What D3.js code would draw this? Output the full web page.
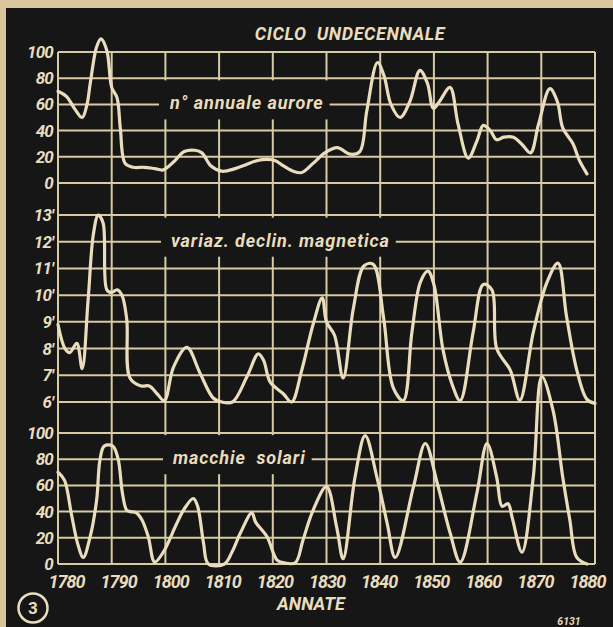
<!DOCTYPE html>
<html>
<head>
<meta charset="utf-8">
<title>Ciclo undecennale</title>
<script src="https://cdn.jsdelivr.net/npm/d3@7"></script>
<style>
  html, body { margin: 0; padding: 0; background: #d9c59b; }
  svg { display: block; }
  text { font-family: Roboto, "Open Sans", sans-serif; font-weight: bold; font-style: italic; fill: #e9ddbd; }
</style>
</head>
<body>
<div id="chart"></div>
<script>
(function () {
  "use strict";

  var W = 613, H = 627;
  var INK = "#e9ddbd", GRID = "#d8caa4", DARK = "#161616";

  var yearTicks = [1780, 1790, 1800, 1810, 1820, 1830, 1840, 1850, 1860, 1870, 1880];
  var auroraTicks = [0, 20, 40, 60, 80, 100];
  var declTicks = [6, 7, 8, 9, 10, 11, 12, 13];
  var spotTicks = [0, 20, 40, 60, 80, 100];

  // n° annuale aurore
  var auroraYears = [1780, 1781.6, 1783.2, 1784.5, 1785.4, 1786, 1787.2, 1788, 1789.1, 1790, 1791, 1791.6, 1792.5, 1794, 1796, 1798, 1799.6,
    1801.5, 1803.5, 1805.5, 1806.8, 1808.5, 1810.5, 1813, 1815, 1817, 1819, 1820.5, 1822, 1823.8, 1825.4, 1827.5, 1829.7,
    1832, 1834.4, 1836.2, 1837.5, 1839.5, 1840.7, 1842, 1843.7, 1845.5, 1847.4, 1848.8, 1849.9, 1851, 1853, 1854.5, 1856.4,
    1858, 1859.2, 1860.5, 1861.7, 1863, 1864.8, 1866.5, 1868, 1869.5, 1871.6, 1873, 1874, 1875.9, 1877, 1878.5];
  var auroraValues = [70, 66, 56, 50, 60, 76, 104, 110, 101, 73, 65, 42, 15, 12, 12, 11, 10,
    16, 24, 25, 23, 13, 9, 11, 14, 17, 18, 17, 13, 9, 8, 15, 23,
    27, 22, 24, 55, 92, 82, 60, 50, 62, 86, 76, 57, 62, 73, 45, 19,
    32, 44, 40, 33, 35, 35, 29, 23, 45, 72, 62, 42, 30, 18, 7];

  // variaz. declin. magnetica (primi d'arco)
  var declYears = [1780, 1781.3, 1782.2, 1783.5, 1784.5, 1785.6, 1786.6, 1787.5, 1788.4, 1789.1, 1790, 1791, 1791.9, 1792.8, 1793.4,
    1795.5, 1797, 1798.5, 1799.8, 1801.5, 1804, 1806.4, 1808.9, 1810.5, 1812.5, 1815.2, 1817.3, 1818.3, 1819.5, 1822, 1823.5,
    1825.4, 1827.5, 1829.2, 1830, 1831.5, 1833.1, 1835, 1837, 1838.7, 1840.6, 1842.4, 1844.3, 1845.9, 1847.5, 1848.9, 1850,
    1851.7, 1853.5, 1854.9, 1857.3, 1859.2, 1860.8, 1861.7, 1864.2, 1866, 1868.5, 1871, 1873.1, 1874.7, 1876.6, 1878.5, 1880];
  var declValues = [8.9, 8.0, 7.85, 8.2, 7.25, 9.8, 12.3, 13.0, 12.7, 10.2, 10.1, 10.2, 10.0, 9.1, 6.9,
    6.6, 6.6, 6.3, 6.05, 7.3, 8.05, 7.1, 6.15, 6.0, 6.0, 6.95, 7.8, 7.55, 6.75, 6.3, 6.0,
    7.2, 8.9, 9.9, 9.0, 8.5, 6.9, 9.5, 11.1, 11.15, 9.2, 6.55, 6.05, 8.6, 10.5, 10.9, 10.4,
    7.95, 6.6, 6.05, 8.6, 10.4, 10.2, 8.0, 7.2, 6.07, 8.6, 10.45, 11.2, 9.2, 7.2, 6.1, 5.95];

  // macchie solari
  var spotYears = [1780, 1781.2, 1782.5, 1783.7, 1784.7, 1786, 1787.2, 1787.8, 1788.6, 1790.2, 1791.2, 1792, 1792.8, 1793.5, 1794.6,
    1795.6, 1796.8, 1798, 1799.6, 1802, 1803.5, 1805.2, 1806, 1807.1, 1808, 1811, 1812.5, 1814, 1816.1, 1816.8, 1818.9,
    1820.8, 1822, 1824.2, 1825.6, 1827.5, 1830, 1831.9, 1833.1, 1835.3, 1837.2, 1839.4, 1841.3, 1842.8, 1846.2, 1848.4,
    1850.6, 1853, 1854.9, 1858, 1859.9, 1861.7, 1862.7, 1863.8, 1864.6, 1866.4, 1868.5, 1870.1, 1872.2, 1874, 1875.3,
    1876.6, 1878.5];
  var spotValues = [70, 64, 38, 15, 5, 21, 49, 79, 90, 90, 80, 54, 41, 40, 39,
    34, 21, 1.5, 9, 30, 42, 50, 44, 16, 0, 0, 10, 24, 39, 32, 21,
    3, 1, 1, 18, 41, 59, 28, 4, 66, 98, 66, 31, 5, 59, 92,
    62, 24, 1.5, 54, 92, 66, 44, 46, 35, 9, 66, 143, 117, 66, 34,
    5, 0];

  var x = d3.scaleLinear().domain([1780, 1880]).range([58, 595]);
  // the year labels sit a little inside the grid at both ends
  var xLabel = x.copy().range([66, 587]);

  var panels = [
    { years: auroraYears, values: auroraValues, ticks: auroraTicks, y: d3.scaleLinear().domain([0, 100]).range([183, 52]),
      fmt: function (d) { return d; }, label: "n\u00b0 annuale aurore", labelAt: 60, labelX: 170 },
    { years: declYears, values: declValues, ticks: declTicks, y: d3.scaleLinear().domain([6, 13]).range([402, 215]),
      fmt: function (d) { return d + "\u2032"; }, label: "variaz. declin. magnetica", labelAt: 12, labelX: 171 },
    { years: spotYears, values: spotValues, ticks: spotTicks, y: d3.scaleLinear().domain([0, 100]).range([564, 433]),
      fmt: function (d) { return d; }, label: "macchie  solari", labelAt: 80, labelX: 173 }
  ];

  var svg = d3.select("#chart").append("svg")
    .attr("width", W)
    .attr("height", H)
    .attr("viewBox", [0, 0, W, H]);

  svg.append("rect").attr("width", W).attr("height", H).attr("fill", "#d9c59b");
  svg.append("rect").attr("x", 6).attr("y", 8).attr("width", W - 6).attr("height", H - 8).attr("fill", DARK);

  var top = panels[0].y.range()[1], bottom = panels[2].y.range()[0];
  var grid = svg.append("g").attr("stroke", GRID).attr("stroke-width", 2);

  grid.selectAll("line.v")
    .data(yearTicks)
    .join("line")
    .attr("class", "v")
    .attr("x1", x).attr("x2", x)
    .attr("y1", top).attr("y2", bottom);

  panels.forEach(function (p) {
    grid.append("g").selectAll("line")
      .data(p.ticks)
      .join("line")
      .attr("x1", x.range()[0]).attr("x2", x.range()[1])
      .attr("y1", p.y).attr("y2", p.y);

    var ax = svg.append("g")
      .attr("transform", "translate(55,0)")
      .call(d3.axisLeft(p.y).tickValues(p.ticks).tickSize(0).tickPadding(2).tickFormat(p.fmt));
    ax.select(".domain").remove();
    ax.selectAll("text")
      .attr("fill", INK)
      .style("font-family", "Roboto, sans-serif")
      .style("font-size", "17px")
      .style("font-weight", "bold")
      .style("font-style", "italic")
      .style("letter-spacing", "-0.8px");
  });

  var line = d3.line().curve(d3.curveCatmullRom.alpha(0.5));

  panels.forEach(function (p) {
    var ly = p.y(p.labelAt);
    var g = svg.append("g");
    var bg = g.append("rect").attr("fill", DARK);
    var lab = g.append("text")
      .attr("x", p.labelX)
      .attr("y", ly + 5)
      .style("font-size", "18px")
      .style("letter-spacing", "0.9px")
      .style("white-space", "pre")
      .text(p.label);
    var bb = lab.node().getBBox();
    bg.attr("x", bb.x - 10)
      .attr("y", ly - 24)
      .attr("width", bb.width + 16)
      .attr("height", 39);

    var pts = p.years.map(function (yr, i) { return [x(yr), p.y(p.values[i])]; });
    svg.append("path")
      .attr("d", line(pts))
      .attr("fill", "none")
      .attr("stroke", INK)
      .attr("stroke-width", 3.2)
      .attr("stroke-linejoin", "round")
      .attr("stroke-linecap", "round");
  });

  var xa = svg.append("g")
    .attr("transform", "translate(0," + (bottom + 8) + ")")
    .call(d3.axisBottom(xLabel).tickValues(yearTicks).tickSize(0).tickPadding(3).tickFormat(d3.format("d")));
  xa.select(".domain").remove();
  xa.selectAll("text")
    .attr("fill", INK)
    .style("font-family", "Roboto, sans-serif")
    .style("font-size", "18px")
    .style("font-weight", "bold")
    .style("font-style", "italic")
    .style("letter-spacing", "-1px");

  svg.append("text")
    .attr("x", 350).attr("y", 40)
    .attr("text-anchor", "middle")
    .style("font-size", "18px")
    .style("letter-spacing", "0.6px")
    .style("white-space", "pre")
    .text("CICLO  UNDECENNALE");

  svg.append("text")
    .attr("x", 311).attr("y", 610)
    .attr("text-anchor", "middle")
    .style("font-size", "18px")
    .text("ANNATE");

  svg.append("circle")
    .attr("cx", 33).attr("cy", 608).attr("r", 14.5)
    .attr("fill", "none").attr("stroke", INK).attr("stroke-width", 2.5);
  svg.append("text")
    .attr("x", 33).attr("y", 614)
    .attr("text-anchor", "middle")
    .style("font-style", "normal")
    .style("font-size", "17px")
    .text("3");

  svg.append("text")
    .attr("x", 569).attr("y", 625)
    .attr("text-anchor", "middle")
    .style("font-size", "10.5px")
    .text("6131");
})();
</script>
</body>
</html>
